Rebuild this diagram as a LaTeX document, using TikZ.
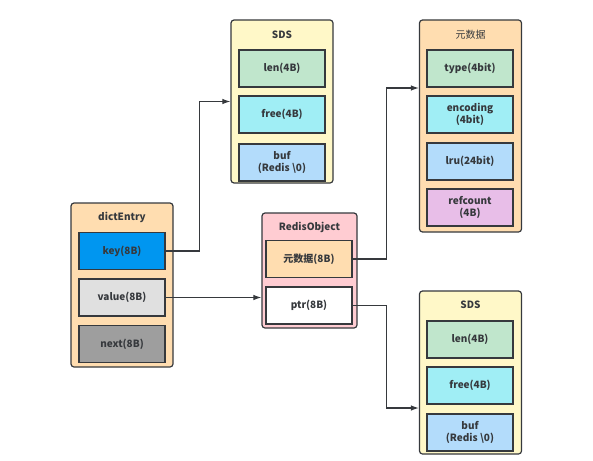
\documentclass[tikz,border=0pt]{standalone}
\usepackage{fontspec}
\setmainfont{Noto Sans CJK SC}
\usepackage{xcolor}
\usetikzlibrary{arrows.meta}

\definecolor{lineGray}{HTML}{36393D}
\definecolor{fillOrange}{HTML}{FFDDB0}
\definecolor{fillPink}{HTML}{FFCCD2}
\definecolor{fillYellow}{HTML}{FFF8C8}
\definecolor{fillGreen}{HTML}{C0E6CC}
\definecolor{fillCyan}{HTML}{A0EEF5}
\definecolor{fillBlue}{HTML}{B3DCFB}
\definecolor{fillViolet}{HTML}{E8BEE8}
\definecolor{fillKey}{HTML}{0096F0}
\definecolor{fillLight}{HTML}{E0E0E0}
\definecolor{fillDark}{HTML}{9E9E9E}

\tikzset{
  holder/.style={draw=lineGray, line width=1.2pt, rounded corners=3pt,
    minimum width=102pt, inner sep=0pt},
  caption/.style={font=\fontsize{10}{11}\selectfont\bfseries, text=lineGray},
  cell/.style={draw=lineGray, line width=1.2pt, minimum width=86pt,
    minimum height=37pt, inner sep=0pt, align=center, text=lineGray,
    font=\fontsize{10}{12}\selectfont\bfseries},
  link/.style={draw=lineGray, line width=1.1pt,
    -{Latex[length=8pt,width=5.5pt]}}
}

\begin{document}
\begin{tikzpicture}[x=1pt,y=-1pt]
  \useasboundingbox (0,0) rectangle (593,460);

  % dictEntry
  \node[holder, fill=fillOrange, minimum height=164pt] (dict) at (122,285) {};
  \node[caption] (dictTitle) at (122,217) {dictEntry};
  \node[cell, fill=fillKey] (key) at (122,251) {key(8B)};
  \node[cell, fill=fillLight] (value) at (122,297.5) {value(8B)};
  \node[cell, fill=fillDark] (next) at (122,344) {next(8B)};

  % RedisObject
  \node[holder, fill=fillPink, minimum width=95pt, minimum height=115pt] (robj) at (309.5,270.5) {};
  \node[caption] (robjTitle) at (309.5,227) {RedisObject};
  \node[cell, fill=fillOrange] (meta) at (309,259) {元数据(8B)};
  \node[cell, fill=white] (ptr) at (309,305.5) {ptr(8B)};

  % SDS (key)
  \node[holder, fill=fillYellow, minimum height=163pt] (sdsKey) at (282,101.5) {};
  \node[caption] (sdsKeyTitle) at (282,35) {SDS};
  \node[cell, fill=fillGreen] (keyLen) at (282,68.5) {len(4B)};
  \node[cell, fill=fillCyan] (keyFree) at (282,114.5) {free(4B)};
  \node[cell, fill=fillBlue] (keyBuf) at (282,162.5) {buf\\(Redis \textbackslash0)};

  % 元数据
  \node[holder, fill=fillOrange, minimum height=212pt] (metaBox) at (470.5,126) {};
  \node[caption, font=\fontsize{10}{11}\selectfont] (metaTitle) at (470.5,35) {元数据};
  \node[cell, fill=fillGreen] (type) at (470,68.5) {type(4bit)};
  \node[cell, fill=fillCyan] (encoding) at (470,114.5) {encoding\\(4bit)};
  \node[cell, fill=fillBlue] (lru) at (470,161.5) {lru(24bit)};
  \node[cell, fill=fillViolet] (refcount) at (470,207.5) {refcount\\(4B)};

  % SDS (value)
  \node[holder, fill=fillYellow, minimum height=163pt] (sdsVal) at (470.5,372.5) {};
  \node[caption] (sdsValTitle) at (470.5,305) {SDS};
  \node[cell, fill=fillGreen] (valLen) at (470,339.5) {len(4B)};
  \node[cell, fill=fillCyan] (valFree) at (470,385.5) {free(4B)};
  \node[cell, fill=fillBlue] (valBuf) at (470,432.5) {buf\\(Redis \textbackslash0)};

  % connectors
  \coordinate (metaIn) at (metaBox.west |- 0,88);
  \coordinate (sdsValIn) at (sdsVal.west |- 0,408);
  \draw[link] (key.east) -- ++(34,0) |- (sdsKey.west);
  \draw[link] (value.east) -- (robj.west |- value.east);
  \draw[link] (meta.east) -- ++(34,0) |- (metaIn);
  \draw[link] (ptr.east) -- ++(34,0) |- (sdsValIn);
\end{tikzpicture}
\end{document}
